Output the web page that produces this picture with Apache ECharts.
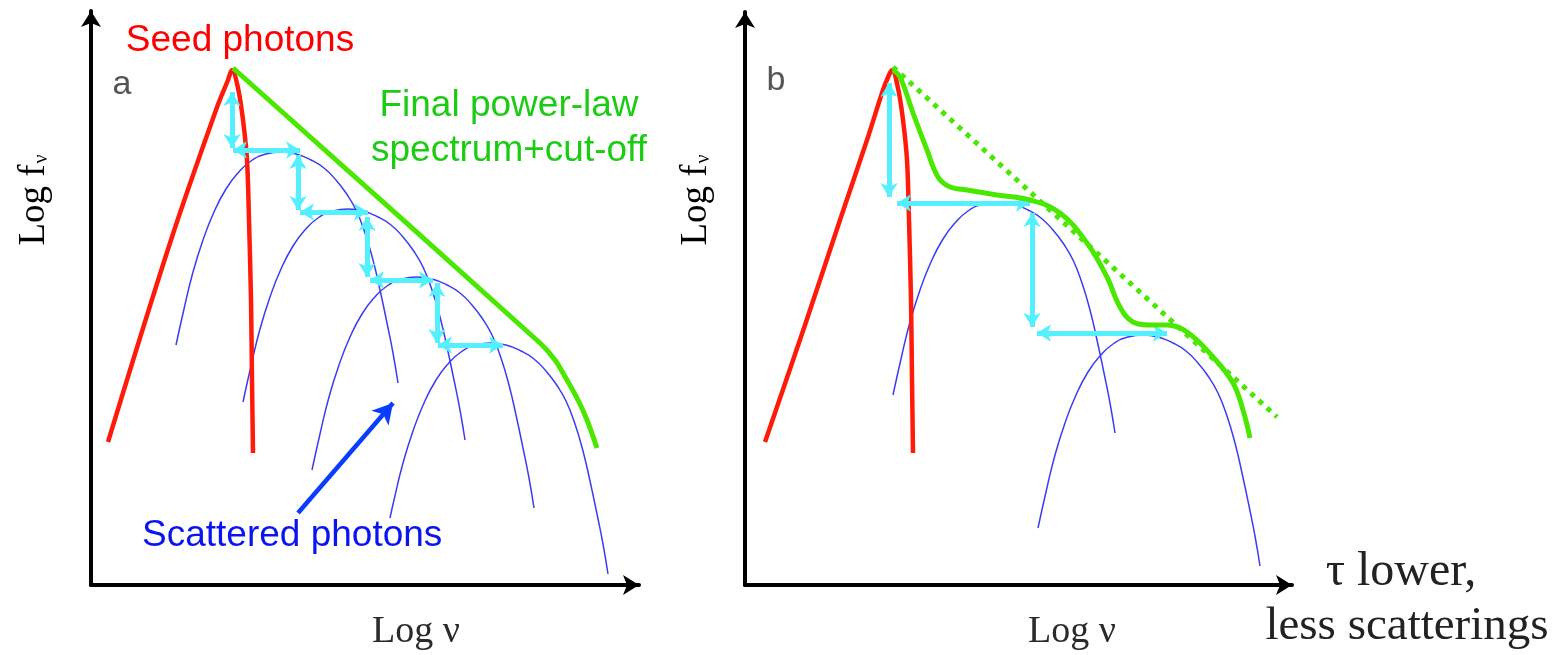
<!DOCTYPE html>
<html>
<head>
<meta charset="utf-8">
<script src="https://cdn.jsdelivr.net/npm/echarts@6/dist/echarts.min.js"></script>
<style>
html,body{margin:0;padding:0;background:#fff;}
#chart{width:1567px;height:655px;}
</style>
</head>
<body>
<div id="chart"></div>
<script>
// ---- Panel a (schematic units: log-nu across, log-f up) ----
const redA = [[17,143],[80,345],[125,475],[137,505],[141,515],[147,497],[152,465],[156,425],[158,365],[160,285],[161,205],[162,132]];
const greenA = [[142,517],[449,242],[464,225],[476,205],[487,185],[496,165],[506,137]];
const humpA1 = [[85,240],[93,276],[102,313],[112,345],[123,373],[135,396],[147,412],[160,424],[175,431],[190,433],[205,431],[220,425],[233,417],[245,405],[255,392],[265,375],[274,352],[282,325],[289,295],[296,262],[302,232],[307,202]];
const humpA2 = [[152,183],[160,219],[169,256],[179,288],[190,316],[202,339],[214,355],[227,367],[242,374],[257,376],[272,374],[287,368],[300,360],[312,348],[322,335],[332,318],[341,295],[349,268],[356,238],[363,205],[369,175],[374,145]];
const humpA3 = [[221,115],[229,151],[238,188],[248,220],[259,248],[271,271],[283,287],[296,299],[311,306],[326,308],[341,306],[356,300],[369,292],[381,280],[391,267],[401,250],[410,227],[418,200],[425,170],[432,137],[438,107],[443,77]];
const humpA4 = [[299,67],[303,85],[312,122],[322,154],[333,182],[345,205],[357,221],[370,233],[385,240],[400,242],[415,240],[430,234],[443,226],[455,214],[465,201],[475,184],[484,161],[492,134],[499,104],[506,71],[512,41],[517,11]];
// double-headed cyan scattering steps: [x1,y1,x2,y2]
const stepsA = [[141,493,141,437],[142,435,209,435],[207,430,207,375],[209,373,277,373],[276,368,276,308],[279,305,342,305],[346,302,346,242],[347,240,412,240]];
const pointerA = [[207,72],[302,182]];

// ---- Panel b ----
const redB = [[20,143],[60,260],[95,365],[122,445],[138,495],[144,510],[147,515],[153,497],[158,465],[162,425],[164,365],[166,285],[167,205],[168,132]];
const trendB = [[148,518],[532,168]];
const greenB = [[148,515],[155,508],[168,472],[182,435],[193,408],[205,398],[222,395],[252,390],[285,385],[315,372],[342,342],[362,308],[375,278],[388,263],[405,260],[422,260],[442,253],[468,228],[488,202],[498,175],[505,147]];
const humpB1 = [[148,190],[156,226],[165,263],[175,295],[186,323],[198,346],[210,362],[223,374],[238,381],[253,383],[268,381],[283,375],[296,367],[308,355],[318,342],[328,325],[337,302],[345,275],[352,245],[359,212],[365,182],[370,152]];
const humpB2 = [[293,57],[301,93],[310,130],[320,162],[331,190],[343,213],[355,229],[368,241],[383,248],[398,250],[413,248],[428,242],[441,234],[453,222],[463,209],[473,192],[482,169],[490,142],[497,112],[504,79],[510,49],[515,19]];
const stepsB = [[144,502,144,388],[152,382,285,382],[287,372,287,258],[292,252,422,252]];

// ---- labels ----
const labelSeed = 'Seed photons';
const labelFinal = ['Final power-law', 'spectrum+cut-off'];
const labelScattered = 'Scattered photons';
const labelTau = ['τ lower,', 'less scatterings'];

const SANS = '"Liberation Sans", Arial, Helvetica, sans-serif';
const SERIF = '"Liberation Serif", "Times New Roman", Times, serif';

const C_RED = '#ff1a0a', C_GREEN = '#4ae800', C_CYAN = '#55f0ff', C_BLUE = '#3c3cf5';

function axis(gi, max){
  return {type:'value', gridIndex:gi, min:0, max:max,
    axisLine:{show:true, onZero:false, symbol:['none','arrow'], symbolSize:[15,16], lineStyle:{color:'#000', width:4}},
    axisTick:{show:false}, axisLabel:{show:false}, splitLine:{show:false}};
}
function curve(gi, data, color, width, z, extra){
  return Object.assign({type:'line', xAxisIndex:gi, yAxisIndex:gi, data:data, smooth:0.35,
    showSymbol:false, symbol:'none', silent:true, z:z,
    lineStyle:{color:color, width:width}}, extra||{});
}
function arrows(gi, steps, color, width, size, sym){
  return {type:'line', xAxisIndex:gi, yAxisIndex:gi, data:[], silent:true, z:8,
    markLine:{silent:true, animation:false, symbol:sym, symbolSize:size, label:{show:false},
      lineStyle:{color:color, width:width, type:'solid', opacity:1},
      emphasis:{disabled:true},
      data: steps.map(s => [{coord:[s[0],s[1]]},{coord:[s[2],s[3]]}])}};
}
const richLogF = {m:{fontSize:37, fontFamily:SERIF, color:'#2a2a2a'}, s:{fontSize:20, fontFamily:SERIF, color:'#2a2a2a', padding:[16,0,0,1]}};

const chart = echarts.init(document.getElementById('chart'), null, {renderer:'canvas'});
chart.setOption({
  animation:false,
  backgroundColor:'#fff',
  grid:[
    {left:91, top:11, width:548, height:574},
    {left:745, top:12, width:547, height:573}
  ],
  xAxis:[axis(0,548), axis(1,547)],
  yAxis:[axis(0,574), axis(1,573)],
  series:[
    curve(0, humpA1, C_BLUE, 1.5, 2, {smooth:0.5}),
    curve(0, humpA2, C_BLUE, 1.5, 2, {smooth:0.5}),
    curve(0, humpA3, C_BLUE, 1.5, 2, {smooth:0.5}),
    curve(0, humpA4, C_BLUE, 1.5, 2, {smooth:0.5}),
    curve(0, redA, C_RED, 4.5, 4),
    curve(0, greenA, C_GREEN, 5, 5, {smooth:0.3}),
    arrows(0, stepsA, C_CYAN, 5, [13,14], ['arrow','arrow']),
    arrows(0, [[pointerA[0][0],pointerA[0][1],pointerA[1][0],pointerA[1][1]]], '#0a3cff', 4.5, [17,20], ['none','arrow']),

    curve(1, humpB1, C_BLUE, 1.5, 2, {smooth:0.5}),
    curve(1, humpB2, C_BLUE, 1.5, 2, {smooth:0.5}),
    curve(1, redB, C_RED, 4.5, 4),
    curve(1, trendB, C_GREEN, 5, 5, {smooth:false, lineStyle:{color:C_GREEN, width:5, type:[5,6]}}),
    curve(1, greenB, C_GREEN, 5, 6, {smooth:0.4}),
    arrows(1, stepsB, C_CYAN, 5, [13,14], ['arrow','arrow'])
  ],
  graphic:[
    {type:'text', x:240, y:41, z:20, style:{text:labelSeed, fill:'#ff0000', font:'37px '+SANS, textAlign:'center', textVerticalAlign:'middle'}},
    {type:'text', x:509, y:106, z:20, style:{text:labelFinal[0], fill:'#1ccc14', font:'37px '+SANS, textAlign:'center', textVerticalAlign:'middle'}},
    {type:'text', x:509, y:151, z:20, style:{text:labelFinal[1], fill:'#1ccc14', font:'37px '+SANS, textAlign:'center', textVerticalAlign:'middle'}},
    {type:'text', x:142, y:536, z:20, style:{text:labelScattered, fill:'#0a14f0', font:'37px '+SANS, textAlign:'left', textVerticalAlign:'middle'}},
    {type:'text', x:122, y:85, z:20, style:{text:'a', fill:'#555', font:'34px '+SANS, textAlign:'center', textVerticalAlign:'middle'}},
    {type:'text', x:776, y:81, z:20, style:{text:'b', fill:'#555', font:'34px '+SANS, textAlign:'center', textVerticalAlign:'middle'}},
    {type:'text', x:34, y:200, rotation:Math.PI/2, z:20, style:{text:'{m|Log f}{s|ν}', textAlign:'center', textVerticalAlign:'middle', rich:richLogF}},
    {type:'text', x:696, y:200, rotation:Math.PI/2, z:20, style:{text:'{m|Log f}{s|ν}', textAlign:'center', textVerticalAlign:'middle', rich:richLogF}},
    {type:'text', x:416, y:632, z:20, style:{text:'Log ν', fill:'#2a2a2a', font:'38px '+SERIF, textAlign:'center', textVerticalAlign:'middle'}},
    {type:'text', x:1072, y:632, z:20, style:{text:'Log ν', fill:'#2a2a2a', font:'38px '+SERIF, textAlign:'center', textVerticalAlign:'middle'}},
    {type:'text', x:1401, y:572, z:20, style:{text:labelTau[0], fill:'#222', font:'48px '+SERIF, textAlign:'center', textVerticalAlign:'middle'}},
    {type:'text', x:1407, y:627, z:20, style:{text:labelTau[1], fill:'#222', font:'47px '+SERIF, textAlign:'center', textVerticalAlign:'middle'}}
  ]
});
</script>
</body>
</html>
